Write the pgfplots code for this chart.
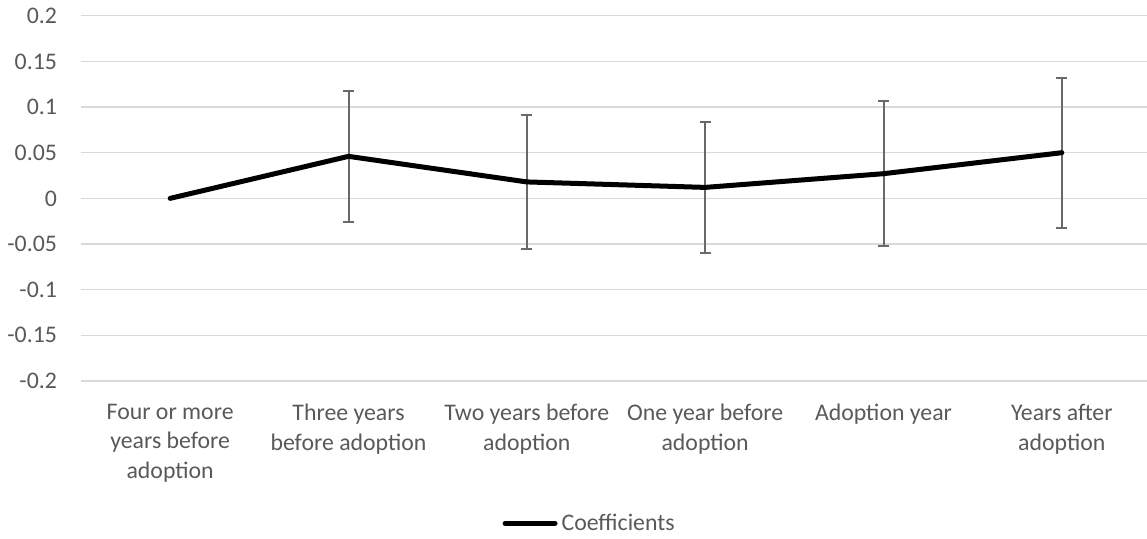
\documentclass[border=0pt]{standalone}
\usepackage{fontspec}
\setmainfont{Carlito}
\usepackage{pgfplots}
\pgfplotsset{compat=1.18}
\definecolor{gridgray}{HTML}{D9D9D9}
\definecolor{labgray}{HTML}{595959}
\definecolor{errgray}{HTML}{696969}
\newcommand{\lfont}{\fontsize{11.9}{14.65}\selectfont}
\begin{document}
\begin{tikzpicture}
\begin{axis}[
  at={(0,0)}, anchor=south west,
  scale only axis,
  width=535pt, height=182.65pt,
  xmin=-0.5, xmax=5.5,
  ymin=-0.2, ymax=0.2,
  clip=false,
  axis line style={draw=none},
  tick style={draw=none},
  ymajorgrids,
  grid style={line width=0.75pt, color=gridgray},
  ytick={-0.2,-0.15,-0.1,-0.05,0,0.05,0.1,0.15,0.2},
  yticklabels={-0.2,-0.15,-0.1,-0.05,0,0.05,0.1,0.15,0.2},
  xtick={0,1,2,3,4,5},
  xticklabels={{Four or more\\years before\\adoption},{Three years\\before adoption},{Two years before\\adoption},{One year before\\adoption},{Adoption year},{Years after\\adoption}},
  /pgf/number format/assume math mode=true,
  yticklabel style={anchor=east, inner sep=0pt, xshift=-11.85pt, text=labgray, font=\lfont},
  xticklabel style={anchor=north, inner sep=0pt, yshift=-11.5pt, align=center, text=labgray, font=\lfont},
  legend style={at={(axis description cs:0.394,-0.3896)}, anchor=west, draw=none, fill=none, inner sep=0pt, outer sep=0pt,
    font=\lfont, text=labgray,
    cells={inner sep=0pt, outer sep=0pt, anchor=west}},
  legend image code/.code={
    \path (0pt,0pt) -- (25pt,0pt);
    \draw[line width=2.5pt, line cap=round, black] (1.25pt,0pt) -- (23pt,0pt);
  },
]
\addplot[forget plot, draw=none, mark=none,
  error bars/.cd, y dir=both, y explicit,
  error bar style={draw=errgray, line width=1pt},
  error mark options={draw=errgray, rotate=90, mark size=2.75pt, line width=1pt}]
  coordinates {
  (1,0.046) +- (0,0.0717)
  (2,0.018) +- (0,0.0735)
  (3,0.012) +- (0,0.0717)
  (4,0.027) +- (0,0.0792)
  (5,0.050) +- (0,0.0823)
  };
\addplot[black, line width=2.5pt, line join=round, line cap=round, mark=none]
  coordinates {
  (0,0)
  (1,0.046)
  (2,0.018)
  (3,0.012)
  (4,0.027)
  (5,0.050)
  };
\addlegendentry{Coefficients}
\end{axis}
\pgfresetboundingbox
\path[use as bounding box] (-40.5pt,-78.5pt) rectangle (533pt,190.5pt);
\end{tikzpicture}
\end{document}
